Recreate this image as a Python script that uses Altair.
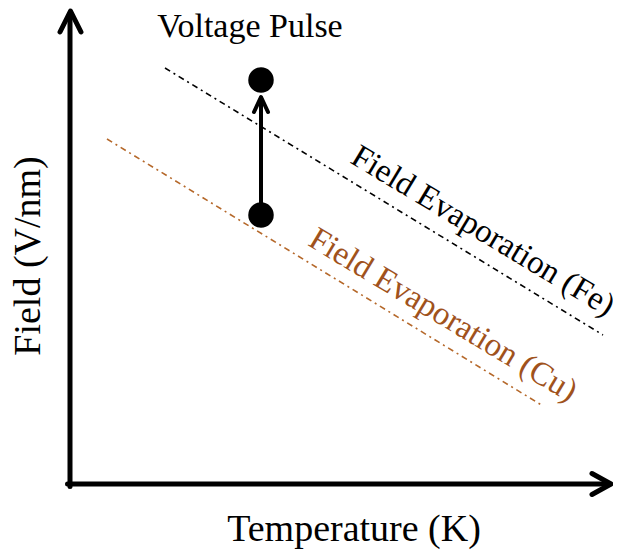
import altair as alt
import pandas as pd

# Schematic coordinates (arbitrary units: Temperature along x, Field along y)
# Axes with arrowheads
axis_seg = ["y_axis", "y_axis", "x_axis", "x_axis",
            "y_head", "y_head", "y_head", "x_head", "x_head", "x_head"]
axis_x = [0.0, 0.0, -0.25, 54.0, -1.0, 0.05, 1.1, 52.2, 54.1, 52.2]
axis_y = [-0.25, 47.0, 0.0, 0.0, 45.2, 47.3, 45.2, 1.05, 0.0, -1.05]
axis_o = [0, 1, 0, 1, 0, 1, 2, 0, 1, 2]

# Field evaporation lines
evap_series = ["Fe", "Fe", "Cu", "Cu"]
evap_x = [9.5, 53.3, 3.7, 47.3]
evap_y = [41.6, 14.9, 34.5, 7.8]

# Voltage pulse points and arrow
pulse_x = [19.1, 19.1]
pulse_y = [26.9, 40.4]
arrow_seg = ["shaft", "shaft", "head", "head", "head"]
arrow_x = [19.1, 19.1, 18.4, 19.1, 19.8]
arrow_y = [26.9, 38.6, 37.2, 38.7, 37.2]

# Text labels
label_text = ["Voltage Pulse", "Field Evaporation (Fe)", "Field Evaporation (Cu)"]
label_x = [18.0, 41.3, 37.3]
label_y = [44.7, 25.3, 16.9]
label_angle = [0, 31, 31]
label_color = ["black", "black", "#a0521c"]
label_size = [34, 33, 33]

xlabel = "Temperature (K)"
ylabel = "Field  (V/nm)"

BROWN_LINE = "#b5682a"
FONT = "Liberation Serif"

xs = alt.Scale(domain=[-6.2, 54.3], nice=False, zero=False)
ys = alt.Scale(domain=[-6.7, 47.6], nice=False, zero=False)

def X(f="x"):
    return alt.X(f"{f}:Q", scale=xs, axis=None)

def Y(f="y"):
    return alt.Y(f"{f}:Q", scale=ys, axis=None)

axes_df = pd.DataFrame({"seg": axis_seg, "x": axis_x, "y": axis_y, "o": axis_o})
axes = alt.Chart(axes_df).mark_line(
    color="black", strokeWidth=5, strokeCap="round", strokeJoin="round", clip=False
).encode(x=X(), y=Y(), detail="seg:N", order="o:Q")

evap_df = pd.DataFrame({"series": evap_series, "x": evap_x, "y": evap_y})
evap = alt.Chart(evap_df).mark_line(strokeWidth=1.6, strokeDash=[6, 4, 2, 4]).encode(
    x=X(), y=Y(), detail="series:N",
    color=alt.Color("series:N", scale=alt.Scale(domain=["Fe", "Cu"], range=["black", BROWN_LINE]), legend=None),
)

arrow_df = pd.DataFrame({"seg": arrow_seg, "x": arrow_x, "y": arrow_y,
                         "o": [0, 1, 0, 1, 2]})
arrow = alt.Chart(arrow_df).mark_line(
    color="black", strokeWidth=4, strokeCap="round", strokeJoin="round"
).encode(x=X(), y=Y(), detail="seg:N", order="o:Q")

pts_df = pd.DataFrame({"x": pulse_x, "y": pulse_y})
pts = alt.Chart(pts_df).mark_circle(size=650, color="black", opacity=1).encode(x=X(), y=Y())

layers = [axes, evap, arrow, pts]
for t, lx, ly, a, c, s in zip(label_text, label_x, label_y, label_angle, label_color, label_size):
    df = pd.DataFrame({"x": [lx], "y": [ly], "t": [t]})
    layers.append(
        alt.Chart(df).mark_text(
            font=FONT, fontSize=s, angle=a, color=c, align="center",
            baseline="alphabetic" if a == 0 else "middle"
        ).encode(x=X(), y=Y(), text="t:N")
    )

xl_df = pd.DataFrame({"x": [28.4], "y": [-5.7], "t": [xlabel]})
layers.append(alt.Chart(xl_df).mark_text(
    font=FONT, fontSize=38, color="black", align="center", baseline="alphabetic"
).encode(x=X(), y=Y(), text="t:N"))

yl_df = pd.DataFrame({"x": [-3.0], "y": [22.8], "t": [ylabel]})
layers.append(alt.Chart(yl_df).mark_text(
    font=FONT, fontSize=38, color="black", align="center", baseline="alphabetic", angle=270
).encode(x=X(), y=Y(), text="t:N"))

chart = alt.layer(*layers).properties(
    width=605, height=543, padding=0, autosize=alt.AutoSizeParams(type="none")
).configure_view(stroke=None)

chart.save("out.html", embed_options={"renderer": "svg", "actions": False})
